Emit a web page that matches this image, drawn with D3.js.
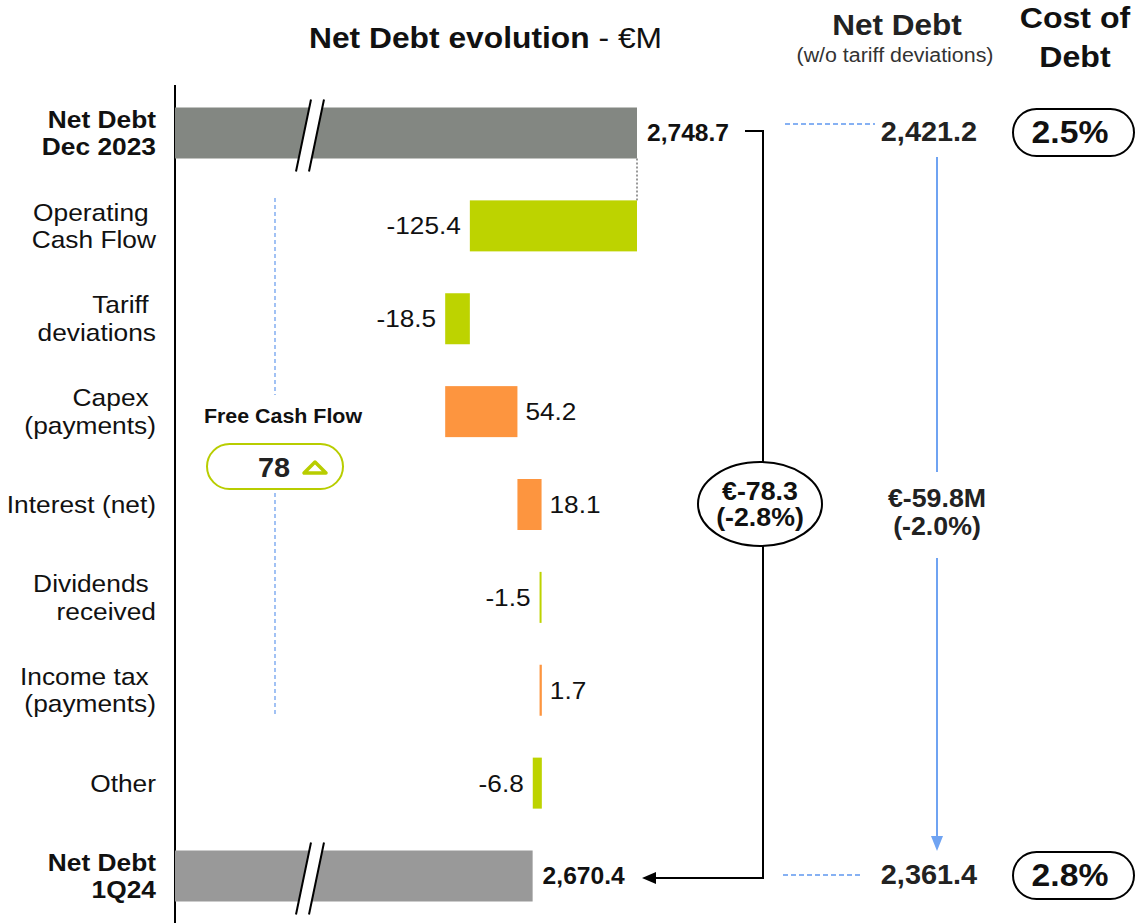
<!DOCTYPE html>
<html><head><meta charset="utf-8">
<script src="https://cdn.jsdelivr.net/npm/d3@7"></script>
<style>
html,body{margin:0;padding:0;background:#fff;}
svg{display:block;font-family:"Liberation Sans",Arial,sans-serif;}
text{white-space:pre;}
</style></head>
<body>
<svg id="chart" width="1137" height="923"></svg>
<script>
// ---- data ----
const categories = ["Net Debt\nDec 2023", "Operating \nCash Flow", "Tariff \ndeviations", "Capex \n(payments)", "Interest (net)", "Dividends \nreceived", "Income tax \n(payments)", "Other", "Net Debt\n1Q24"];
const values = [2748.7, -125.4, -18.5, 54.2, 18.1, -1.5, 1.7, -6.8, 2670.4];
const kinds = ["total", "delta", "delta", "delta", "delta", "delta", "delta", "delta", "total"];
const valueLabels = ["2,748.7", "-125.4", "-18.5", "54.2", "18.1", "-1.5", "1.7", "-6.8", "2,670.4"];
const netDebtAdj = ["2,421.2", "2,361.4"];
const costOfDebt = ["2.5%", "2.8%"];
const changeTotal = ["€-78.3", "(-2.8%)"];
const changeAdj = ["€-59.8M", "(-2.0%)"];
const freeCashFlow = 78;

const svg = d3.select("#chart");
const green = "#bdd300", orange = "#fd953f", blue = "#6fa3f2";
const totalColors = ["#838782", "#999999"];
const ink = "#111";

// scales (axis is broken: the visible domain starts near 2402)
const x = d3.scaleLinear().domain([2402.1, 2748.7]).range([175, 637]);
const y = d3.scalePoint().domain(categories).range([133, 876]);
const bh = 51;

// waterfall computation
let run = 0;
const bars = values.map((v, i) => {
  let a, b;
  if (kinds[i] === "total") { a = x.domain()[0]; b = v; run = v; }
  else { a = run; b = run + v; run = b; }
  return {cat: categories[i], v, lo: Math.min(a, b), hi: Math.max(a, b), kind: kinds[i], i};
});

// title
const title = svg.append("text").attr("x", 309).attr("y", 48).attr("font-size", 29.7).attr("fill", ink);
title.append("tspan").attr("font-weight", "bold").text("Net Debt evolution");
title.append("tspan").text(" - €M");

// axis line
svg.append("line").attr("x1", 175).attr("x2", 175).attr("y1", 85).attr("y2", 923).attr("stroke", "#000").attr("stroke-width", 2);

// category labels
categories.forEach((c, i) => {
  const lines = c.split("\n");
  const bold = kinds[i] === "total";
  const t = svg.append("text").attr("text-anchor", "end").attr("font-size", 24.6)
    .attr("font-weight", bold ? "bold" : "normal").attr("fill", ink);
  const cy = y(c);
  lines.forEach((l, j) => {
    t.append("tspan").attr("x", 156).attr("y", cy + 8.5 + (j - (lines.length - 1) / 2) * 27.5).text(l);
  });
});

// connector from first bar
svg.append("line").attr("x1", x(values[0])).attr("x2", x(values[0]))
  .attr("y1", y(categories[0]) + bh / 2).attr("y2", y(categories[1]) - bh / 2)
  .attr("stroke", "#000").attr("stroke-width", 0.8).attr("stroke-dasharray", "2,2");

// bars
svg.selectAll("rect.bar").data(bars).join("rect").attr("class", "bar")
  .attr("x", d => x(d.lo)).attr("width", d => Math.max(2, x(d.hi) - x(d.lo)))
  .attr("y", d => y(d.cat) - bh / 2).attr("height", bh)
  .attr("fill", d => d.kind === "total" ? totalColors[d.i === 0 ? 0 : 1] : (d.v < 0 ? green : orange));

// axis break marks
bars.filter(d => d.kind === "total").forEach(d => {
  const y0 = y(d.cat) - bh / 2 - 8, y1 = y(d.cat) + bh / 2 + 13;
  const xa = 311, dx = -15, gap = 13;
  svg.append("polygon").attr("points", `${xa},${y0} ${xa + gap},${y0} ${xa + gap + dx},${y1} ${xa + dx},${y1}`).attr("fill", "#fff");
  [0, gap].forEach(g => svg.append("line").attr("x1", xa + g).attr("y1", y0).attr("x2", xa + g + dx).attr("y2", y1)
    .attr("stroke", "#000").attr("stroke-width", 2));
});

// value labels
bars.forEach((d, i) => {
  const cy = y(d.cat) + 8.5;
  if (d.kind === "total") {
    svg.append("text").attr("x", x(d.v) + 10).attr("y", cy).attr("font-size", 23).attr("font-weight", "bold").attr("fill", ink).text(valueLabels[i]);
  } else if (d.v < 0) {
    svg.append("text").attr("x", x(d.lo) - 9).attr("y", cy).attr("text-anchor", "end").attr("font-size", 24.5).attr("fill", ink).text(valueLabels[i]);
  } else {
    svg.append("text").attr("x", x(d.hi) + 8).attr("y", cy).attr("font-size", 24.5).attr("fill", ink).text(valueLabels[i]);
  }
});

// bracket with change ellipse
const yTop = y(categories[0]) - 2, yBot = y(categories[8]) + 2, bx = 763;
const ecy = 504, ery = 42, erx = 62;
svg.append("path").attr("d", `M745,${yTop} H${bx} V${ecy - ery}`).attr("fill", "none").attr("stroke", "#000").attr("stroke-width", 2);
svg.append("path").attr("d", `M${bx},${ecy + ery} V${yBot} H655`).attr("fill", "none").attr("stroke", "#000").attr("stroke-width", 2);
svg.append("polygon").attr("points", `642,${yBot} 656,${yBot - 6} 656,${yBot + 6}`).attr("fill", "#000");
svg.append("ellipse").attr("cx", 760).attr("cy", ecy).attr("rx", erx).attr("ry", ery).attr("fill", "#fff").attr("stroke", "#000").attr("stroke-width", 2);
changeTotal.forEach((t, j) => svg.append("text").attr("x", 760).attr("y", 500 + j * 26).attr("text-anchor", "middle")
  .attr("font-size", 25).attr("font-weight", "bold").attr("fill", ink).text(t));

// right column headers
svg.append("text").attr("x", 897).attr("y", 35).attr("text-anchor", "middle").attr("font-size", 29.5).attr("font-weight", "bold").attr("fill", "#222").text("Net Debt");
svg.append("text").attr("x", 895).attr("y", 62).attr("text-anchor", "middle").attr("font-size", 20).attr("fill", "#333").text("(w/o tariff deviations)");
svg.append("text").attr("x", 1075).attr("y", 28).attr("text-anchor", "middle").attr("font-size", 30).attr("font-weight", "bold").attr("fill", ink).text("Cost of");
svg.append("text").attr("x", 1075).attr("y", 67).attr("text-anchor", "middle").attr("font-size", 30).attr("font-weight", "bold").attr("fill", ink).text("Debt");

// net debt adjusted + cost of debt
[0, 8].forEach((ci, j) => {
  const cy = y(categories[ci]);
  const ly = (j === 0 ? cy - 9 : cy - 1);
  svg.append("line").attr("x1", j === 0 ? 785 : 783).attr("x2", j === 0 ? 875 : 863).attr("y1", ly).attr("y2", ly)
    .attr("stroke", "#5f98f0").attr("stroke-width", 1.5).attr("stroke-dasharray", "5,3");
  svg.append("text").attr("x", 929).attr("y", cy + 8).attr("text-anchor", "middle").attr("font-size", 27).attr("font-weight", "bold").attr("fill", "#222").text(netDebtAdj[j]);
  svg.append("rect").attr("x", 1013).attr("y", cy - 24).attr("width", 121).attr("height", 47).attr("rx", 23.5)
    .attr("fill", "#fff").attr("stroke", "#000").attr("stroke-width", 2);
  svg.append("text").attr("x", 1070).attr("y", cy + 10).attr("text-anchor", "middle").attr("font-size", 31.5).attr("font-weight", "bold").attr("fill", ink).text(costOfDebt[j]);
});

// blue arrow
const ax = 937;
svg.append("line").attr("x1", ax).attr("x2", ax).attr("y1", 157).attr("y2", 472).attr("stroke", blue).attr("stroke-width", 2);
svg.append("line").attr("x1", ax).attr("x2", ax).attr("y1", 558).attr("y2", 838).attr("stroke", blue).attr("stroke-width", 2);
svg.append("polygon").attr("points", `${ax - 6},836 ${ax + 6},836 ${ax},851`).attr("fill", blue);
changeAdj.forEach((t, j) => svg.append("text").attr("x", ax).attr("y", 507 + j * 28).attr("text-anchor", "middle")
  .attr("font-size", 25).attr("font-weight", "bold").attr("fill", "#222").text(t));

// Free cash flow
const fx = 275;
svg.append("line").attr("x1", fx).attr("x2", fx).attr("y1", 198).attr("y2", 395).attr("stroke", "#7aa8f0").attr("stroke-width", 1.4).attr("stroke-dasharray", "4,3");
svg.append("line").attr("x1", fx).attr("x2", fx).attr("y1", 493).attr("y2", 716).attr("stroke", "#7aa8f0").attr("stroke-width", 1.4).attr("stroke-dasharray", "4,3");
svg.append("text").attr("x", 283).attr("y", 423).attr("text-anchor", "middle").attr("font-size", 20).attr("font-weight", "bold").attr("fill", ink).text("Free Cash Flow");
svg.append("rect").attr("x", 207).attr("y", 444).attr("width", 136).attr("height", 45).attr("rx", 22.5)
  .attr("fill", "#fff").attr("stroke", "#b8cd00").attr("stroke-width", 2);
svg.append("text").attr("x", 274).attr("y", 477).attr("text-anchor", "middle").attr("font-size", 27).attr("font-weight", "bold").attr("fill", "#222").text(String(freeCashFlow));
svg.append("polygon").attr("points", "304,473 326,473 315,462").attr("fill", "none").attr("stroke", "#b8cd00").attr("stroke-width", 3.5).attr("stroke-linejoin", "round");

// slight horizontal stretch of all text to match the reference glyph widths
const S = 1.07;
svg.selectAll("text").each(function () {
  let ax0 = this.getAttribute("x");
  if (ax0 === null) { const f = this.querySelector("tspan"); ax0 = f ? f.getAttribute("x") : 0; }
  ax0 = +ax0;
  this.setAttribute("transform", `translate(${ax0},0) scale(${S},1) translate(${-ax0},0)`);
});
</script>
</body></html>
